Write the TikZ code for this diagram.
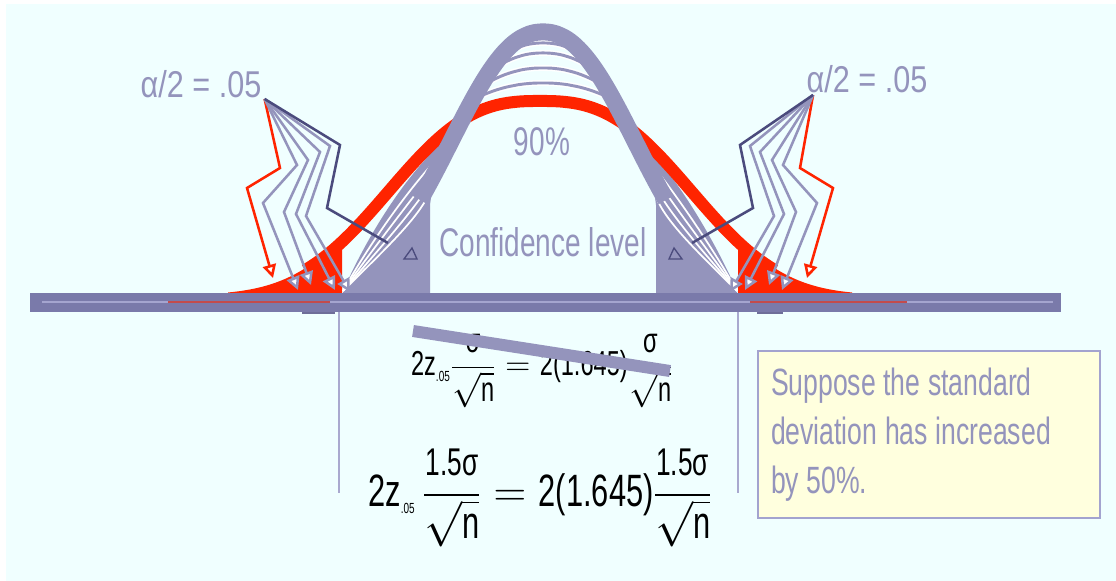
\RequirePackage{fix-cm}
\documentclass[tikz,border=0pt]{standalone}
\usepackage{amsmath}
\usepackage{fontspec}
\setmainfont{Liberation Sans}[FakeStretch=0.70]
\newfontfamily\alphafont{Liberation Sans}[FakeStretch=0.82]
\newfontfamily\eqfont{Liberation Sans}[FakeStretch=0.68]
\usetikzlibrary{arrows.meta}

\definecolor{bgcyan}{HTML}{F0FFFF}
\definecolor{bellgray}{HTML}{9494BC}
\definecolor{axisblue}{HTML}{7A7AAA}
\definecolor{axislight}{HTML}{A5A5CF}
\definecolor{tailred}{HTML}{FF2400}
\definecolor{navyline}{HTML}{4B4B7D}
\definecolor{noteyellow}{HTML}{FFFFDE}
\definecolor{noteedge}{HTML}{A3A3CF}
\definecolor{guidegray}{HTML}{A9A9CF}

\newcommand{\eqt}[1]{\text{\eqfont #1}}
\newcommand{\eqsub}[1]{\text{\eqfont\fontsize{11}{11}\selectfont #1}}
\newcommand{\eqnum}[1]{\text{\eqfont\fontsize{29}{30}\selectfont #1}}

\begin{document}
\begin{tikzpicture}[x=0.75pt, y=-0.75pt,
    declare function={bell(\t,\hgt,\wid,\pw,\ctr)=295-\hgt*exp(0-((abs(\t-\ctr)+0.001)/\wid)^\pw);},
    zigzag/.style={line width=1.9pt, -{Triangle[width=10pt,length=10pt,fill=white]}},
    bigtext/.style={inner sep=0pt, text=bellgray, font=\fontsize{30}{32}\selectfont},
    alphalabel/.style={inner sep=0pt, text=bellgray, font=\alphafont\fontsize{28}{30}\selectfont},
    formula/.style={inner sep=0pt, text=black},
    strike/.style={bellgray, line width=9pt},
    guide/.style={guidegray, line width=2pt},
    notebox/.style={draw=noteedge, line width=1.2pt, fill=noteyellow, minimum width=256.5pt,
        minimum height=125.25pt, text width=237pt, align=left, inner sep=0pt, text=bellgray,
        font=\fontsize{28.5}{36.75}\selectfont}]
    \useasboundingbox (0,0) rectangle (1116,581);
    \fill[white] (0,0) rectangle (1116,581);
    \fill[bgcyan] (6,4) rectangle (1116,581);

    % Red tails and the gray fans, left side then mirrored.
    \foreach \side/\gc in {1/543,-1/537}{
        \begin{scope}[shift={({540-540*\side},0)}, xscale=\side]
            \fill[tailred] (228,295) -- plot[domain=228:342, samples=40] (\x,{bell(\x,208,180,2.7,540)}) -- (342,295) -- cycle;
            \fill[bellgray] (343,293) -- (343,291) .. controls (362,248) and (400,178) .. (\gc-91,133)
                -- (\gc-111,190) -- (\gc-113,205) -- (\gc-113,293) -- cycle;
            \foreach \k in {1,...,4}
                \draw[white, line width=1.3pt] (343,291) .. controls ({360+6*\k},250) and ({400+7*\k},{182+7*\k}) .. ({\gc-91-5*\k},{136+12*\k});
        \end{scope}
    }

    % Nested arcs under the top of the narrow curve.
    \begin{scope}
        \clip plot[domain=421:665, samples=80] (\x,{bell(\x,263,122,2.2,543)}) -- cycle;
        \clip (400,0) rectangle (700,100);
        \foreach \ah/\aw in {252/155,242/166,227/188,212/218}{
            \draw[white, line width=4.5pt] plot[domain=463:623, samples=60] (\x,{bell(\x,\ah,\aw,2.2,543)});
            \draw[bellgray, line width=2.2pt] plot[domain=463:623, samples=60] (\x,{bell(\x,\ah,\aw,2.2,543)});
        }
    \end{scope}

    % The wide (red) and narrow (gray) curves.
    \draw[tailred, line width=9pt] plot[domain=305:775, samples=150] (\x,{bell(\x,194,180,2.7,540)});
    \draw[bellgray, line width=12.75pt] plot[domain=420:666, samples=150] (\x,{bell(\x,263,122,2.2,543)});

    % Axis.
    \fill[axisblue] (30,293) rectangle (1061,312);
    \draw[axislight, line width=0.8pt] (42,302) -- (1053,302);
    \draw[tailred!55!axisblue, line width=0.8pt] (168,302) -- (330,302);
    \draw[tailred!55!axisblue, line width=0.8pt] (750,302) -- (907,302);
    \fill[axisblue!90!black] (302,312) rectangle (335,314);
    \fill[axisblue!90!black] (757,312) rectangle (783,314);

    % Labels for the tails.
    \node[alphalabel] (alphaL) at (201,84) {α/2 = .05};
    \node[alphalabel] (alphaR) at (867,79) {α/2 = .05};
    \coordinate (fromL) at ([xshift=2.25pt,yshift=-0.75pt]alphaL.south east);
    \coordinate (fromR) at ([xshift=5pt,yshift=-1.5pt]alphaR.south west);

    % Zigzag arrows, left side then mirrored.
    \foreach \side/\gc/\from in {1/543/fromL,-1/537/fromR}{
        \begin{scope}[shift={({540-540*\side},0)}, xscale=\side]
            \draw[zigzag, tailred] (\from) -- (280,168) -- (247,188) -- (273,278);
            \draw[zigzag, bellgray] (\from) -- (297,165) -- (263,203) -- (298,290);
            \draw[zigzag, bellgray] (\from) -- (308,160) -- (284,212) -- (311,285);
            \draw[zigzag, bellgray] (\from) -- (320,152) -- (296,214) -- (335,290);
            \draw[zigzag, bellgray] (\from) -- (330,146) -- (306,216) -- (350,292);
            \draw[navyline, line width=1.9pt] (\from) -- (340,145) -- (327,208) -- (388,243);
            \draw[navyline, line width=1pt] (\gc-139,259) -- (\gc-131,248) -- (\gc-126,259) -- cycle;
        \end{scope}
    }

    \node[bigtext] (pct) at (542,142) {90\%};
    \node[bigtext] (conf) at (543,242) {Confidence level};

    % Cut lines and the margin of error.
    \draw[guide] (339,312) -- (339,493);
    \draw[guide] (738,312) -- (738,493);
    \node[formula, font=\fontsize{26}{30}\selectfont] (eqold) at (542,371)
        {$\eqt{2z}_{\eqsub{.05}}\dfrac{\eqt{σ}}{\sqrt{\eqt{n}}}=\eqt{2(1.645)}\dfrac{\eqt{σ}}{\sqrt{\eqt{n}}}$};
    \draw[strike] (413,331) -- (670,371);
    \node[formula, font=\fontsize{34}{40}\selectfont] (eqnew) at (540,498)
        {$\eqt{2z}_{\eqsub{.05}}\,\dfrac{\eqnum{1.5σ}}{\sqrt{\eqt{n}}}=\eqt{2(1.645)}\dfrac{\eqnum{1.5σ}}{\sqrt{\eqt{n}}}$};

    \node[notebox] (note) at (929,434.5) {\spaceskip=0.2em plus 0.1em\relax Suppose the standard\\deviation has increased\\by 50\%.};
\end{tikzpicture}
\end{document}
